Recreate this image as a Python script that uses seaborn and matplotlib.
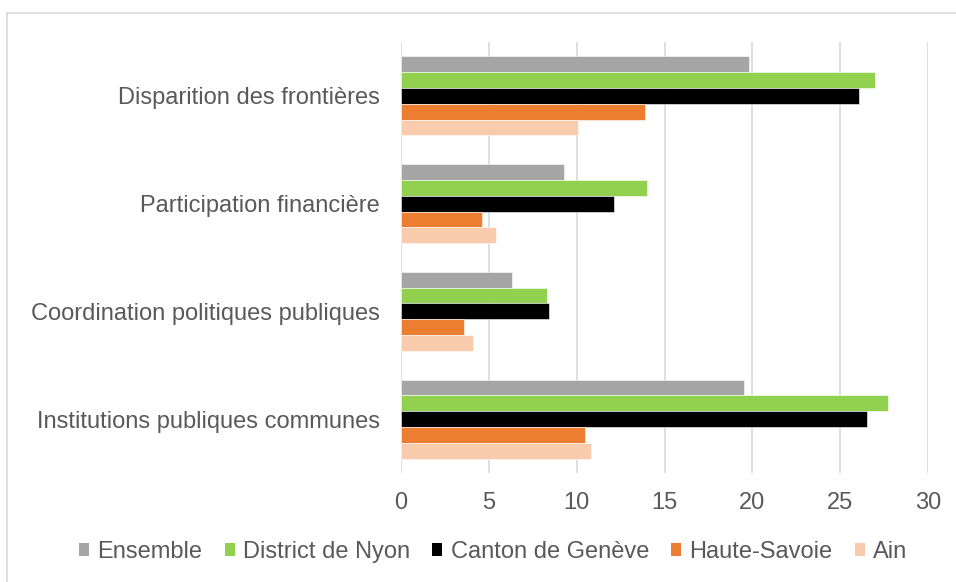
import matplotlib
matplotlib.use("Agg")
import matplotlib.pyplot as plt
import seaborn as sns
import pandas as pd
from matplotlib.patches import Patch, Rectangle

categories = ["Disparition des frontières", "Participation financière",
              "Coordination politiques publiques", "Institutions publiques communes"]
series = ["Ensemble", "District de Nyon", "Canton de Genève", "Haute-Savoie", "Ain"]
ensemble = [19.8, 9.3, 6.3, 19.5]
nyon = [27.0, 14.0, 8.3, 27.7]
geneve = [26.1, 12.1, 8.4, 26.5]
haute_savoie = [13.9, 4.6, 3.6, 10.5]
ain = [10.1, 5.4, 4.1, 10.8]
colors = ["#A5A5A5", "#92D050", "#000000", "#ED7D31", "#F8CBAD"]
xticks = [0, 5, 10, 15, 20, 25, 30]

rows = []
for s, vals in zip(series, [ensemble, nyon, geneve, haute_savoie, ain]):
    for c, v in zip(categories, vals):
        rows.append({"cat": c, "series": s, "val": v})
df = pd.DataFrame(rows)

sns.set_style("white")
plt.rcParams["font.family"] = ["Liberation Sans", "DejaVu Sans"]

fig = plt.figure(figsize=(9.56, 5.82), dpi=100)
ax = fig.add_axes([401 / 956, 1 - 473 / 582, (928 - 401) / 956, (473 - 42) / 582])

sns.barplot(data=df, y="cat", x="val", hue="series", order=categories,
            hue_order=series, palette=colors, orient="h", width=0.735,
            saturation=1, ax=ax, legend=False, edgecolor="white",
            linewidth=0.4, zorder=3)

ax.set_xlim(0, 30)
ax.set_ylim(3.5, -0.5)
ax.set_xticks(xticks)
ax.set_xticklabels([str(t) for t in xticks])
ax.grid(axis="x", color="#D9D9D9", linewidth=1.2, zorder=0)
ax.grid(axis="y", visible=False)
ax.set_axisbelow(True)
for sp in ax.spines.values():
    sp.set_visible(False)
ax.set_xlabel("")
ax.set_ylabel("")
ax.tick_params(axis="x", length=0, pad=14, labelsize=17, labelcolor="#595959")
ax.tick_params(axis="y", length=0, pad=15, labelsize=17, labelcolor="#595959")

handles = [Patch(facecolor=c, edgecolor="none") for c in colors]
fig.legend(handles, series, loc="center", bbox_to_anchor=(0.516, 1 - 552 / 582),
           ncol=5, frameon=False, fontsize=17, handlelength=0.42, handleheight=0.42,
           handletextpad=0.35, columnspacing=0.95, labelcolor="#595959")

fig.patches.append(Rectangle((7 / 956, -0.1), 1.2, 1 - 13 / 582 + 0.1,
                             transform=fig.transFigure, fill=False,
                             edgecolor="#D9D9D9", linewidth=1.2))

fig.savefig("out.png", dpi=100)
